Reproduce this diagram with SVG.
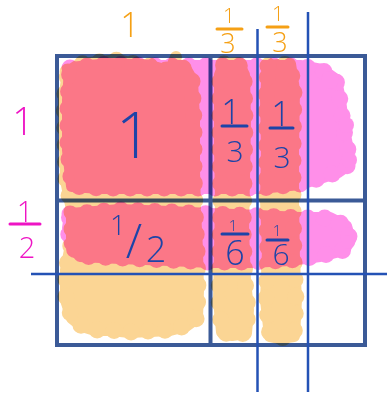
<svg xmlns="http://www.w3.org/2000/svg" width="387" height="394" viewBox="0 0 387 394">
  <style>
    .frame { fill: none; stroke: #3b5a97; stroke-width: 4; }
    .o { fill: #fbd594; stroke: #fbd594; }
    .p { fill: #ff8fe9; stroke: #ff8fe9; }
    .base { stroke-width: 12; stroke-linejoin: round; stroke-linecap: round; }
    .scal { stroke-width: 17; stroke-dasharray: 0 17; stroke-linecap: round; }
    .bl { stroke: #2452b5; stroke-width: 2.5; fill: none; }
    .t { font-family: "Open Sans", "Liberation Sans", sans-serif; font-weight: 300; text-anchor: middle; }
    .to { fill: #f5a015; }
    .tm { fill: #ee14c4; }
    .tb { fill: #1c44a8; }
    .bar-o { stroke: #f5a015; stroke-width: 3; stroke-linecap: round; }
    .bar-m { stroke: #ee14c4; stroke-width: 3; stroke-linecap: round; }
    .bar-b { stroke: #1c44a8; stroke-width: 3; stroke-linecap: round; }
  </style>
  <defs>
    <polygon id="oL" points="68,72 80,64 100,62 118,60 135,64 150,66 165,70 185,68 192,80 194,120 194,170 195,210 197,250 198,290 197,318 186,326 170,330 150,331 130,332 110,330 95,330 82,326 72,318 66,300 66,270 72,240 72,210 66,180 65,140 64,100"/>
    <polygon id="oC2" points="224,64 238,63 244,75 245,120 244,180 243,230 245,280 248,310 246,333 232,335 222,332 219,300 220,250 221,200 220,150 220,100 220,75"/>
    <polygon id="oC3" points="268,66 290,64 294,90 293,150 293,200 294,260 296,300 294,336 280,338 270,336 266,300 268,250 266,200 267,150 266,100"/>
    <polygon id="pT" points="70,68 110,64 160,66 210,66 260,66 300,66 322,70 336,80 340,100 344,130 348,150 348,165 338,172 320,178 300,184 260,188 220,188 180,188 140,188 100,188 72,186 68,150 68,100"/>
    <polygon id="pB" points="70,214 120,210 170,212 210,214 260,216 300,218 330,218 346,226 350,240 344,250 320,256 290,260 250,262 210,262 170,260 120,258 80,256 70,244 68,228"/>
  </defs>
  <rect width="387" height="394" fill="#ffffff"/>

  <g id="frame">
    <rect class="frame" x="57" y="56" width="308" height="289"/>
    <line class="frame" x1="210.5" y1="56" x2="210.5" y2="345"/>
    <line class="frame" x1="57" y1="200.5" x2="365" y2="200.5"/>
  </g>

  <g id="orange-highlight" style="mix-blend-mode:multiply">
    <use href="#oL" class="o base"/>
    <use href="#oL" class="o scal"/>
    <line class="o base" x1="176" y1="57" x2="162" y2="90" stroke-width="14"/>
    <use href="#oC2" class="o base"/>
    <use href="#oC2" class="o scal"/>
    <use href="#oC3" class="o base"/>
    <use href="#oC3" class="o scal"/>
  </g>

  <g id="pink-highlight" style="mix-blend-mode:multiply">
    <use href="#pT" class="p base"/>
    <use href="#pT" class="p scal"/>
    <circle cx="330" cy="80" r="9" fill="#ff8fe9"/>
    <circle cx="346" cy="125" r="8" fill="#ff8fe9"/>
    <circle cx="349" cy="160" r="8" fill="#ff8fe9"/>
    <use href="#pB" class="p base"/>
    <use href="#pB" class="p scal"/>
    <circle cx="338" cy="224" r="8" fill="#ff8fe9"/>
    <circle cx="348" cy="242" r="7" fill="#ff8fe9"/>
  </g>

  <g id="blue-lines">
    <line class="bl" x1="257.5" y1="29" x2="257.5" y2="392"/>
    <line class="bl" x1="308" y1="12" x2="308" y2="392"/>
    <line class="bl" x1="31" y1="274" x2="387" y2="274"/>
  </g>

  <g id="top-labels">
    <text class="t to" x="130" y="37" font-size="34">1</text>
    <text class="t to"><tspan x="229" y="23" font-size="21">1</tspan><tspan x="228" y="53" font-size="27">3</tspan></text>
    <line class="bar-o" x1="217" y1="29" x2="242" y2="29"/>
    <text class="t to"><tspan x="278" y="21" font-size="21">1</tspan><tspan x="280" y="52" font-size="27">3</tspan></text>
    <line class="bar-o" x1="267" y1="27" x2="288" y2="27"/>
  </g>

  <g id="side-labels">
    <text class="t tm" x="23" y="135" font-size="38">1</text>
    <text class="t tm"><tspan x="25" y="222" font-size="29">1</tspan><tspan x="27" y="258" font-size="29">2</tspan></text>
    <line class="bar-m" x1="10" y1="224" x2="40" y2="224"/>
  </g>

  <g id="cell-labels">
    <text class="t tb" x="134" y="158" font-size="64">1</text>
    <text class="t tb"><tspan x="231" y="124" font-size="34">1</tspan><tspan x="235" y="162" font-size="30">3</tspan></text>
    <line class="bar-b" x1="222" y1="126" x2="247" y2="126"/>
    <text class="t tb"><tspan x="281" y="126" font-size="34">1</tspan><tspan x="282" y="168" font-size="30">3</tspan></text>
    <line class="bar-b" x1="270" y1="128" x2="293" y2="128"/>

    <text class="t tb"><tspan font-size="28" x="118" y="235">1</tspan><tspan font-size="48" x="134" y="258">/</tspan><tspan font-size="36" x="156" y="262">2</tspan></text>

    <text class="t tb"><tspan x="233" y="231" font-size="15">1</tspan><tspan x="235" y="265" font-size="34">6</tspan></text>
    <line class="bar-b" x1="222" y1="234" x2="248" y2="234"/>
    <text class="t tb"><tspan x="277" y="236" font-size="15">1</tspan><tspan x="281" y="265" font-size="30">6</tspan></text>
    <line class="bar-b" x1="267" y1="240" x2="288" y2="240"/>
  </g>
</svg>
